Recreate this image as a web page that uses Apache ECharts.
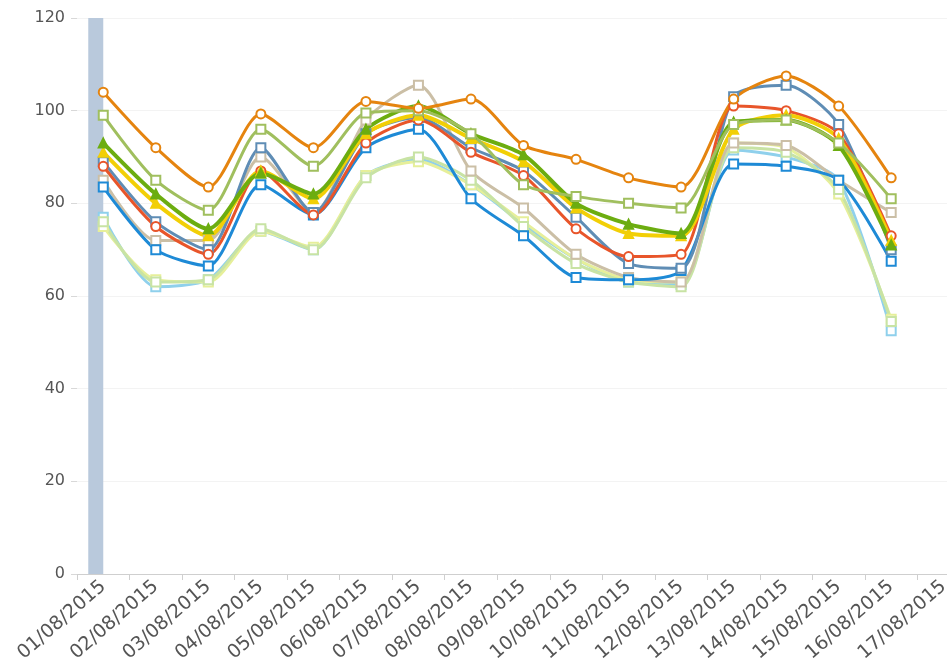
<!DOCTYPE html>
<html>
<head>
<meta charset="utf-8">
<script src="https://cdn.jsdelivr.net/npm/echarts@6/dist/echarts.min.js"></script>
<style>
  html, body { margin: 0; padding: 0; background: #fff; }
  #chart { width: 947px; height: 668px; }
</style>
</head>
<body>
<div id="chart"></div>
<script>
// categories (x axis)
const days = [
  "01/08/2015", "02/08/2015", "03/08/2015", "04/08/2015", "05/08/2015", "06/08/2015",
  "07/08/2015", "08/08/2015", "09/08/2015", "10/08/2015", "11/08/2015", "12/08/2015",
  "13/08/2015", "14/08/2015", "15/08/2015", "16/08/2015", "17/08/2015"
];

// series values
const orangeVals = [104, 92, 83.5, 99.3, 92, 102, 100.5, 102.5, 92.5, 89.5, 85.5, 83.5, 102.5, 107.5, 101, 85.5];
const oliveVals  = [99, 85, 78.5, 96, 88, 99.5, 100, 95, 84, 81.5, 80, 79, 97, 98, 93, 81];
const greenVals  = [93, 82, 74.5, 86.5, 82, 96, 101, 95, 90.5, 80, 75.5, 73.5, 97.5, 98, 92.5, 71];
const yellowVals = [91, 80, 73, 87, 81, 95, 99, 94, 89, 79, 73.5, 73, 96, 99, 94, 72];
const redVals    = [88, 75, 69, 87, 77.5, 93, 98, 91, 86, 74.5, 68.5, 69, 101, 100, 95, 73];
const steelVals  = [89, 76, 70, 92, 78, 95, 98.5, 92, 87, 77, 67, 66, 103, 105.5, 97, 70];
const blueVals   = [83.5, 70, 66.5, 84, 77.5, 92, 96, 81, 73, 64, 63.5, 65.5, 88.5, 88, 85, 67.5];
const tanVals    = [85, 72, 72, 90, 78, 98, 105.5, 87, 79, 69, 64, 63, 93, 92.5, 85, 78];
const paleGreenVals  = [76, 63, 63.5, 74.5, 70, 85.5, 90, 85, 75, 67, 63, 62, 92, 91, 83, 54.5];
const paleYellowVals = [75, 63.5, 63, 74, 70.5, 86, 89, 84, 76, 68, 63.5, 63, 93, 92, 82, 55];
const cyanVals   = [77, 62, 63.5, 74, 70, 86, 89.5, 84, 75.5, 68, 63, 62.5, 91.5, 90, 85, 52.5];

// the grey-blue column at the first day
const barVals = [120];

const yTicks = { min: 0, max: 120, interval: 20 };

function lineSeries(name, data, color, symbol, width) {
  return {
    name: name,
    type: "line",
    data: data,
    smooth: 0.25,
    symbol: symbol,
    symbolSize: 9,
    lineStyle: { color: color, width: width },
    itemStyle: { color: color, borderColor: color, borderWidth: 2 },
  };
}

const chart = echarts.init(document.getElementById("chart"));

chart.setOption({
  animation: false,
  backgroundColor: "#ffffff",
  // plot runs past the right edge, like the cropped original
  grid: { left: 77, width: 893, top: 18, bottom: 94, containLabel: false, outerBoundsMode: "none" },
  xAxis: {
    type: "category",
    data: days,
    boundaryGap: true,
    axisLine: { lineStyle: { color: "#cfcfcf", width: 1 } },
    axisTick: { show: true, alignWithLabel: false, length: 6, lineStyle: { color: "#cfcfcf" } },
    axisLabel: {
      interval: 0,
      rotate: 41,
      margin: 10,
      color: "#555",
      fontFamily: "DejaVu Sans",
      fontSize: 19,
    },
    splitLine: { show: false },
  },
  yAxis: {
    type: "value",
    min: yTicks.min,
    max: yTicks.max,
    interval: yTicks.interval,
    axisLine: { show: false },
    axisTick: { show: true, length: 6, lineStyle: { color: "#d8d8d8" } },
    axisLabel: { color: "#555", fontFamily: "DejaVu Sans", fontSize: 16, margin: 12 },
    splitLine: { show: true, lineStyle: { color: "#f3f3f3" } },
  },
  series: [
    {
      type: "bar",
      data: barVals,
      barWidth: 15,
      barGap: "0%",
      itemStyle: { color: "#b9c9dc" },
      silent: true,
      z: 1,
    },
    { type: "bar", data: [], barWidth: 15, z: 1 },
    lineSeries("cyan", cyanVals, "#8fd0ec", "emptyRect", 3),
    lineSeries("paleYellow", paleYellowVals, "#e6ef9a", "emptyRect", 3),
    lineSeries("paleGreen", paleGreenVals, "#c8e3a4", "emptyRect", 3),
    lineSeries("tan", tanVals, "#cbbfa6", "emptyRect", 3),
    lineSeries("blue", blueVals, "#1e8ad6", "emptyRect", 3),
    lineSeries("steel", steelVals, "#5f8db5", "emptyRect", 3),
    lineSeries("red", redVals, "#e8552a", "emptyCircle", 3),
    lineSeries("yellow", yellowVals, "#f2cf06", "triangle", 4),
    lineSeries("green", greenVals, "#6cad10", "triangle", 4),
    lineSeries("olive", oliveVals, "#a0bf5e", "emptyRect", 3),
    lineSeries("orange", orangeVals, "#e5840f", "emptyCircle", 3),
  ],
});
</script>
</body>
</html>
